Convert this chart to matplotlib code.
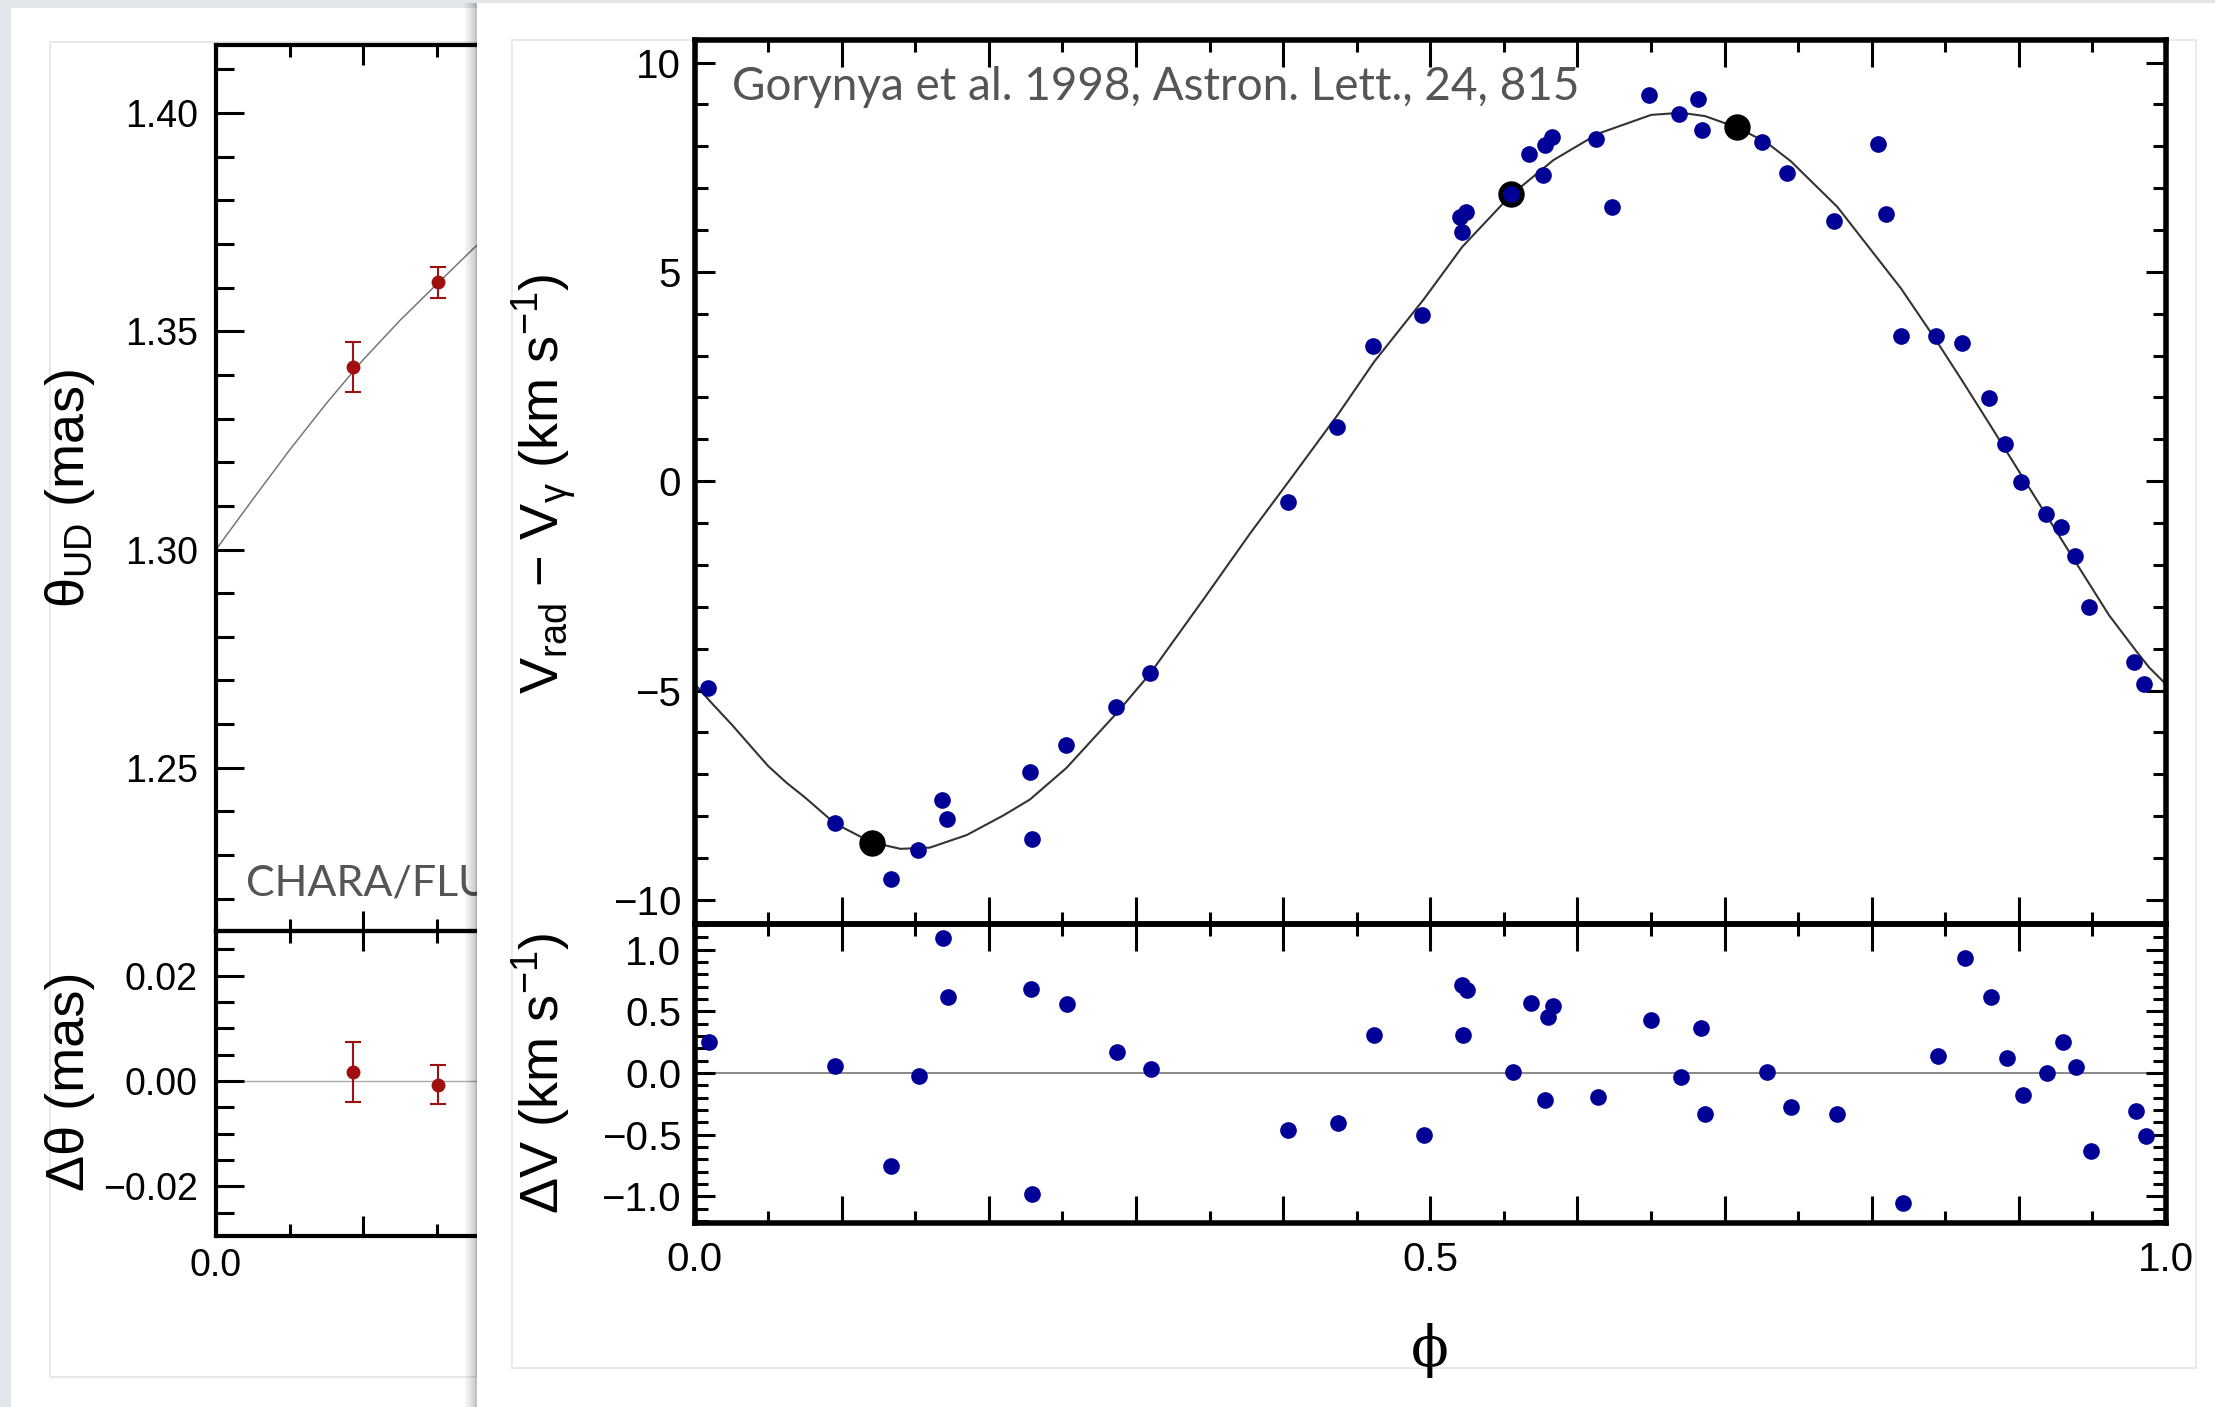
import matplotlib
matplotlib.use("Agg")
import matplotlib.pyplot as plt
from matplotlib.patches import Rectangle
from matplotlib.ticker import MultipleLocator, FuncFormatter

# ── Data ──────────────────────────────────────────────────────────────────────

# left slide: CHARA/FLUOR uniform-disc diameters (mostly hidden by the right slide)
theta_phase     = [0.0928, 0.151]
theta_ud        = [1.3418, 1.3612]
theta_err       = [0.0058, 0.0036]
dtheta          = [0.0017, -0.0007]
dtheta_err      = [0.0057, 0.0037]
theta_fit_phase = [0.0, 0.025, 0.05, 0.075, 0.1, 0.125, 0.15, 0.175, 0.2]
theta_fit       = [1.300, 1.3115, 1.3228, 1.3335, 1.3435, 1.3525, 1.3608, 1.3690, 1.3765]

# right slide: radial velocities (Gorynya et al. 1998)
rv_phase = [0.009, 0.0953, 0.1335, 0.1522, 0.1684, 0.1719, 0.228, 0.2291, 0.2527,
            0.2866, 0.3095, 0.403, 0.4368, 0.4614, 0.4945, 0.5202, 0.5218, 0.524,
            0.5549, 0.5668, 0.5768, 0.5777, 0.5826, 0.6124, 0.6232, 0.6487, 0.669,
            0.6818, 0.6848, 0.7257, 0.7426, 0.7745, 0.8041, 0.8098, 0.82, 0.8435,
            0.8615, 0.88, 0.8907, 0.9016, 0.9185, 0.9285, 0.938, 0.948, 0.9784, 0.9852]
rv       = [-4.94, -8.17, -9.51, -8.81, -7.61, -8.07, -6.95, -8.55, -6.29,
            -5.40, -4.57, -0.50, 1.29, 3.22, 3.98, 6.31, 5.95, 6.43,
            6.85, 7.82, 7.31, 8.02, 8.22, 8.17, 6.55, 9.22, 8.78,
            9.14, 8.40, 8.10, 7.37, 6.22, 8.06, 6.38, 3.48, 3.46,
            3.31, 1.99, 0.90, -0.01, -0.78, -1.10, -1.79, -3.01, -4.31, -4.84]

# epochs of the interferometric observations (big black dots)
key_phase = [0.1206, 0.5549, 0.7084]
key_rv    = [-8.65, 6.85, 8.45]

rv_fit_phase = [0.0, 0.0125, 0.025, 0.0375, 0.05, 0.0625, 0.075, 0.0953, 0.12, 0.14,
                0.16, 0.185, 0.21, 0.228, 0.2527, 0.2866, 0.3095, 0.3463, 0.3775,
                0.4035, 0.4374, 0.4618, 0.4957, 0.5218, 0.555, 0.5837, 0.614, 0.6502,
                0.6706, 0.6868, 0.7084, 0.7286, 0.7451, 0.7767, 0.82, 0.8435, 0.8615,
                0.88, 0.9016, 0.9185, 0.938, 0.9613, 0.9796, 0.9886, 1.0]
rv_fit       = [-4.84, -5.33, -5.8, -6.3, -6.8, -7.2, -7.55, -8.17, -8.62, -8.78,
                -8.75, -8.45, -7.98, -7.6, -6.85, -5.55, -4.6, -2.8, -1.25,
                -0.02, 1.6, 2.85, 4.35, 5.6, 6.84, 7.67, 8.3, 8.75,
                8.8, 8.72, 8.45, 8.09, 7.64, 6.55, 4.6, 3.38, 2.4,
                1.37, 0.15, -0.8, -1.9, -3.2, -4.05, -4.45, -4.85]

res_phase = [0.0096, 0.0955, 0.1334, 0.1528, 0.1686, 0.1723, 0.2286, 0.2296, 0.253,
             0.2872, 0.3103, 0.4035, 0.4374, 0.4618, 0.4957, 0.5214, 0.5247, 0.5224,
             0.556, 0.5685, 0.5781, 0.5797, 0.5837, 0.614, 0.6502, 0.6706, 0.6838,
             0.6868, 0.7286, 0.7451, 0.7767, 0.8215, 0.8452, 0.8633, 0.8814, 0.892,
             0.9028, 0.9193, 0.9298, 0.9387, 0.9489, 0.9796, 0.9865]
res_dv    = [0.251, 0.059, -0.757, -0.022, 1.095, 0.614, 0.678, -0.981, 0.559,
             0.168, 0.032, -0.462, -0.405, 0.308, -0.5, 0.714, 0.676, 0.311,
             0.011, 0.568, -0.219, 0.457, 0.546, -0.192, 0.432, -0.030, 0.362,
             -0.332, 0.011, -0.273, -0.332, -1.054, 0.135, 0.935, 0.619, 0.119,
             -0.176, -0.003, 0.249, 0.046, -0.632, -0.311, -0.508]

# ── Style ─────────────────────────────────────────────────────────────────────

W, H = 2215, 1407
plt.rcParams["font.family"] = ["Liberation Sans", "DejaVu Sans"]
plt.rcParams["mathtext.fontset"] = "custom"
plt.rcParams["mathtext.rm"] = "Liberation Sans"

C_BLUE  = "#000096"
C_RED   = "#a01010"
C_NOTE  = "#555555"
BG      = "#e2e5e9"
PX      = 72 / 100   # pixels -> points
NOTE_FONT = ["Lato", "DejaVu Sans"]


def box(x0, y0, x1, y1):
    """pixel box (top-left origin) -> figure-fraction rect"""
    return [x0 / W, 1 - y1 / H, (x1 - x0) / W, (y1 - y0) / H]


def fmt(decimals, only=None):
    def f(v, pos):
        if only is not None and not any(abs(v - o) < 1e-6 for o in only):
            return ""
        if abs(v) < 1e-9:
            v = 0.0
        return f"{v:.{decimals}f}".replace("-", "\u2212")
    return FuncFormatter(f)


def style_axes(ax, lw, xmaj, xmin_len, ymaj, ymin_len, tick_font, pad_x, pad_y):
    for s in ax.spines.values():
        s.set_linewidth(lw)
    ax.tick_params(which="both", direction="in", top=True, right=True,
                   width=2.2, labelsize=tick_font)
    ax.tick_params(axis="x", which="major", length=xmaj, pad=pad_x)
    ax.tick_params(axis="x", which="minor", length=xmin_len)
    ax.tick_params(axis="y", which="major", length=ymaj, pad=pad_y)
    ax.tick_params(axis="y", which="minor", length=ymin_len)
    ax.xaxis.set_major_locator(MultipleLocator(0.1))
    ax.xaxis.set_minor_locator(MultipleLocator(0.05))
    ax.set_xlim(0, 1)


fig = plt.figure(figsize=(W / 100, H / 100), dpi=100, facecolor=BG)

# slide cards
fig.add_artist(Rectangle((11 / W, 0), (477 - 11) / W, 1 - 8 / H, transform=fig.transFigure,
                         facecolor="white", edgecolor="none", zorder=0.5))
fig.add_artist(Rectangle((50 / W, 1 - 1377 / H), (477 - 50) / W, (1377 - 42) / H,
                         transform=fig.transFigure, fill=False, edgecolor="#e4e4e4",
                         lw=1.2, zorder=0.6))
for i, a in enumerate([0.04, 0.07, 0.10, 0.14, 0.18, 0.24]):
    fig.add_artist(Rectangle(((465 + 2 * i) / W, 0), 2 / W, 1 - 3 / H,
                             transform=fig.transFigure, facecolor="black",
                             edgecolor="none", alpha=a, zorder=2.4))
fig.add_artist(Rectangle((477 / W, 0), (W - 477) / W, 1 - 3 / H, transform=fig.transFigure,
                         facecolor="white", edgecolor="none", zorder=2.5))
fig.add_artist(Rectangle((512 / W, 1 - 1368 / H), (2196 - 512) / W, (1368 - 40) / H,
                         transform=fig.transFigure, fill=False, edgecolor="#e6e6e6",
                         lw=1.2, zorder=2.6))

# ── Left slide: angular diameter ──────────────────────────────────────────────

axL = fig.add_axes(box(216, 45, 1688, 931), zorder=1)
axLr = fig.add_axes(box(216, 931, 1688, 1236), zorder=1, sharex=axL)
for ax in (axL, axLr):
    ax.set_facecolor("none")
    style_axes(ax, 3.0, 20 * PX, 12 * PX, 28 * PX, 18 * PX, 27, 9, 13)
    ax.xaxis.set_major_formatter(fmt(1, only=[0.0, 0.5, 1.0]))

axL.plot(theta_fit_phase, theta_fit, color="#777777", lw=1.1, zorder=1)
axL.errorbar(theta_phase, theta_ud, yerr=theta_err, fmt="o", color=C_RED, ms=9,
             elinewidth=1.5, capsize=5.8, capthick=1.5, zorder=2)
axL.set_ylim(1.2126, 1.4156)
axL.yaxis.set_major_locator(MultipleLocator(0.05))
axL.yaxis.set_minor_locator(MultipleLocator(0.01))
axL.yaxis.set_major_formatter(fmt(2))
axL.tick_params(axis="x", labelbottom=False)
axL.text(0.0204, 0.0406, "CHARA/FLUOR", transform=axL.transAxes, fontsize=31,
         family=NOTE_FONT, color=C_NOTE, ha="left", va="baseline")

axLr.axhline(0, color="#aaaaaa", lw=1.0, zorder=1)
axLr.errorbar(theta_phase, dtheta, yerr=dtheta_err, fmt="o", color=C_RED, ms=9,
              elinewidth=1.5, capsize=5.8, capthick=1.5, zorder=2)
axLr.set_ylim(-0.0294, 0.0285)
axLr.yaxis.set_major_locator(MultipleLocator(0.02))
axLr.yaxis.set_minor_locator(MultipleLocator(0.005))
axLr.yaxis.set_major_formatter(fmt(2))

fig.text(70 / W, 1 - 489 / H, "θ$_\\mathregular{UD}$ (mas)", rotation=90,
         ha="center", va="center", fontsize=39)
fig.text(70 / W, 1 - 1081 / H, "Δθ (mas)", rotation=90,
         ha="center", va="center", fontsize=39)

# ── Right slide: radial velocity curve ────────────────────────────────────────

axR = fig.add_axes(box(694.5, 39.5, 2166, 923.8), zorder=3)
axRr = fig.add_axes(box(694.5, 923.8, 2166, 1223.3), zorder=3, sharex=axR)
for ax in (axR, axRr):
    ax.set_facecolor("none")
    style_axes(ax, 4.0, 27 * PX, 12 * PX, 20 * PX, 13 * PX, 29, 13, 9.7)
    ax.xaxis.set_major_formatter(fmt(1, only=[0.0, 0.5, 1.0]))

axR.plot(rv_fit_phase, rv_fit, color="#333333", lw=1.5, zorder=1)
axR.plot(key_phase, key_rv, "o", color="black", ms=19, mec="none", zorder=2)
axR.plot(rv_phase, rv, "o", color=C_BLUE, ms=12, mec="none", zorder=3)
axR.set_ylim(-10.57, 10.55)
axR.yaxis.set_major_locator(MultipleLocator(5))
axR.yaxis.set_minor_locator(MultipleLocator(1))
axR.yaxis.set_major_formatter(fmt(0))
axR.tick_params(axis="x", labelbottom=False)
axR.text(0.0255, 0.9316, "Gorynya et al. 1998, Astron. Lett., 24, 815",
         transform=axR.transAxes, fontsize=33, family=NOTE_FONT,
         color=C_NOTE, ha="left", va="baseline")

axRr.axhline(0, color="#888888", lw=1.4, zorder=1)
axRr.plot(res_phase, res_dv, "o", color=C_BLUE, ms=12, mec="none", zorder=3)
axRr.set_ylim(-1.22, 1.21)
axRr.yaxis.set_major_locator(MultipleLocator(0.5))
axRr.yaxis.set_minor_locator(MultipleLocator(0.1))
axRr.yaxis.set_major_formatter(fmt(1))

fig.text(544 / W, 1 - 484 / H,
         "V$_\\mathregular{rad}$ \u2212 V$_\\mathregular{γ}$ (km s$^\\mathregular{\u22121}$)",
         rotation=90, ha="center", va="center", fontsize=39, zorder=4)
fig.text(541 / W, 1 - 1073 / H, "ΔV (km s$^\\mathregular{\u22121}$)",
         rotation=90, ha="center", va="center", fontsize=39, zorder=4)
fig.text(1430 / W, 1 - 1350 / H, "ϕ", ha="center", va="center", fontsize=40,
         family=["DejaVu Serif", "DejaVu Sans"], zorder=4)

fig.savefig("out.png", dpi=100, facecolor=BG)
